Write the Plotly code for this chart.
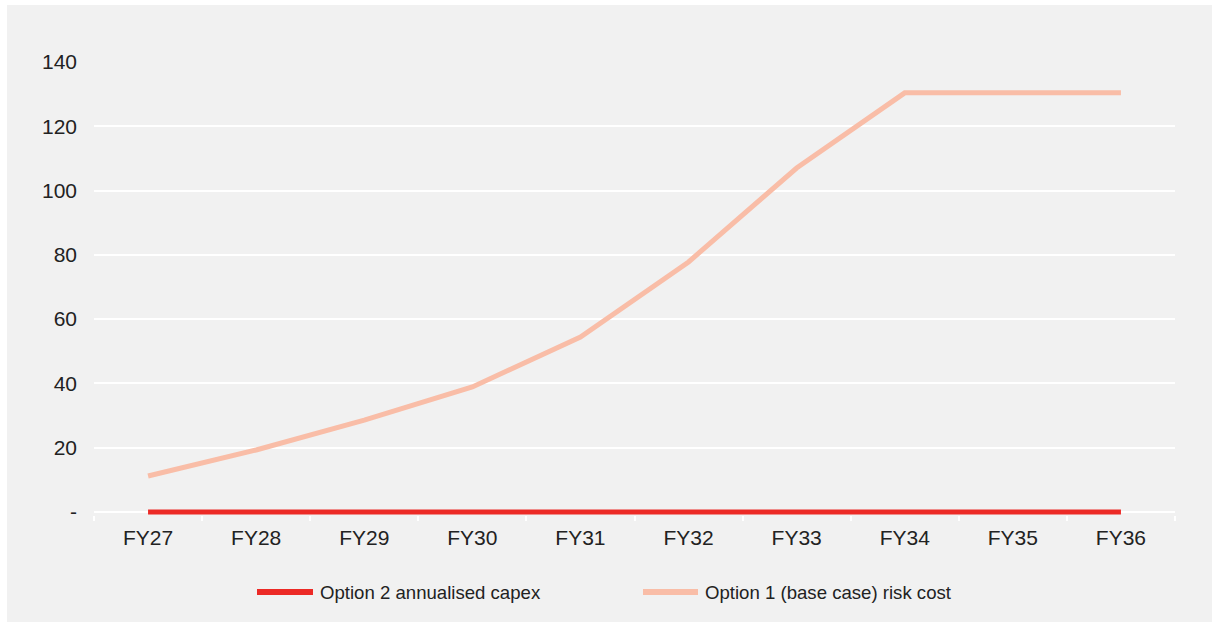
import plotly.graph_objects as go

years = ["FY27", "FY28", "FY29", "FY30", "FY31", "FY32", "FY33", "FY34", "FY35", "FY36"]
option2_capex = [0, 0, 0, 0, 0, 0, 0, 0, 0, 0]
option1_risk = [11.2, 19.3, 28.6, 38.9, 54.4, 77.8, 107, 130.4, 130.4, 130.4]
y_ticks = [0, 20, 40, 60, 80, 100, 120, 140]
y_labels = ["-", "20", "40", "60", "80", "100", "120", "140"]
series_names = ["Option 2 annualised capex", "Option 1 (base case) risk cost"]
series_colors = ["#ec2a26", "#f9bda7"]

fig = go.Figure()
for name, vals, col in zip(series_names, [option2_capex, option1_risk], series_colors):
    fig.add_trace(go.Scatter(x=years, y=vals, mode="lines", name=name,
                             showlegend=False,
                             line=dict(color=col, width=5)))

# plot area geometry (px): x 94..1175, y 62..515
PW, PH = 1081, 453
def px_x(p):
    return (p - 94) / PW
def px_y(p):
    return (515 - p) / PH

# background panel
fig.add_shape(type="rect", xref="paper", yref="paper",
              x0=px_x(7), x1=px_x(1212), y0=px_y(622), y1=px_y(5),
              fillcolor="#f1f1f1", line=dict(width=0), layer="below")

# manual legend
legend_y = px_y(592)
legend_pos = [(257, 313, 318), (643, 698, 703)]
for name, col, (lx0, lx1, tx) in zip(series_names, series_colors, legend_pos):
    fig.add_shape(type="line", xref="paper", yref="paper",
                  x0=px_x(lx0), x1=px_x(lx1), y0=legend_y, y1=legend_y,
                  line=dict(color=col, width=6))
    fig.add_annotation(xref="paper", yref="paper", x=px_x(tx), y=legend_y,
                       xanchor="left", yanchor="middle", showarrow=False,
                       text=name, font=dict(size=18.6, color="#222222"))

fig.update_layout(
    width=1219, height=628,
    margin=dict(l=94, r=44, t=62, b=113),
    paper_bgcolor="white", plot_bgcolor="#f1f1f1",
    font=dict(family="Liberation Sans, Arial, sans-serif", size=21, color="#222222"),
    showlegend=False,
    xaxis=dict(type="category", range=[-0.5, 9.5], showgrid=False, showline=False,
               ticks="outside", tickson="boundaries",
               ticklen=5, tickcolor="white", tickwidth=2, zeroline=False,
               ticklabelstandoff=8, layer="below traces"),
    yaxis=dict(range=[-0.933, 140], tickvals=y_ticks, ticktext=y_labels, showgrid=True,
               gridcolor="white", gridwidth=2, zeroline=False, showline=False,
               ticklabelstandoff=16, layer="below traces"),
)

fig.write_html("out.html")
